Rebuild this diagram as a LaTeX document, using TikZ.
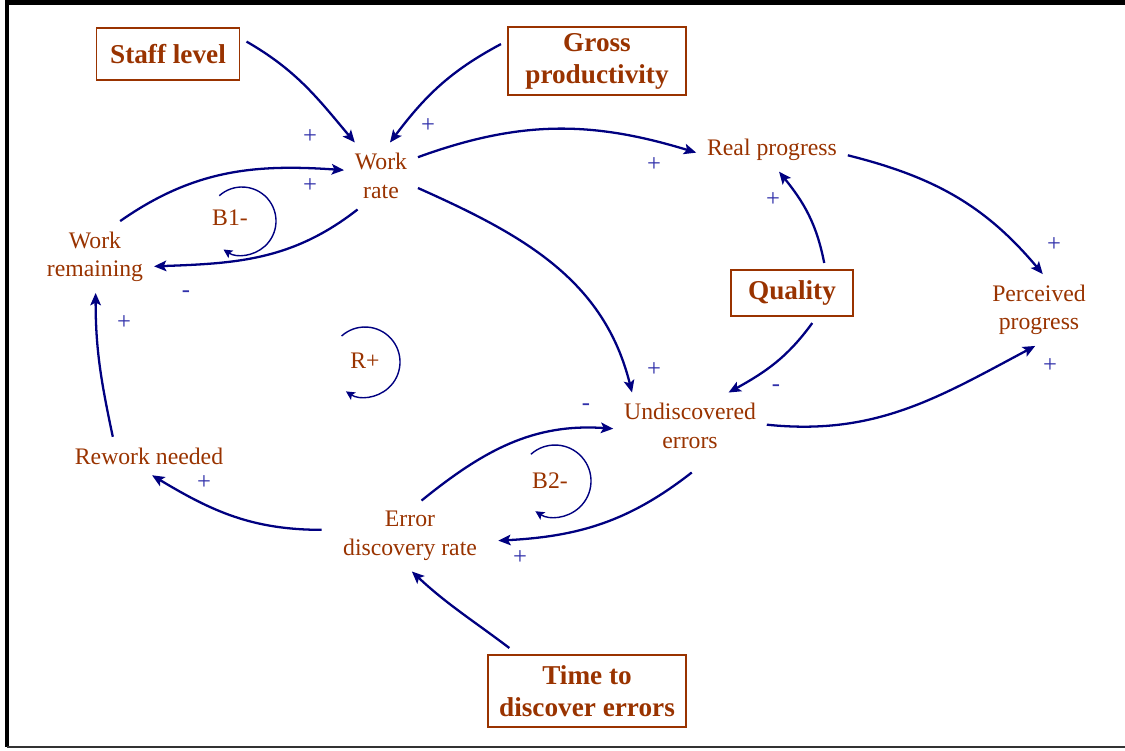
\documentclass[tikz,border=0pt]{standalone}
\usepackage{fontspec}
\setmainfont{Liberation Serif}
\usetikzlibrary{arrows.meta}
\definecolor{varcol}{RGB}{153,51,0}
\definecolor{linkcol}{RGB}{0,0,128}
\definecolor{signcol}{RGB}{48,48,170}

\begin{document}
\begin{tikzpicture}[
    var/.style={text=varcol, align=center, inner sep=6pt, font=\fontsize{13.5}{16.2}\selectfont},
    box/.style={draw=varcol, line width=1.1pt, text=varcol, align=center, inner sep=0pt, outer sep=4pt, font=\fontsize{15.5}{18.2}\selectfont\bfseries},
    link/.style={-{Stealth[length=7pt,width=6pt,inset=1.5pt]}, line width=1.3pt, linkcol},
    loopline/.style={-{Stealth[length=5pt,width=5pt,inset=1pt]}, line width=0.8pt, linkcol},
    sign/.style={text=signcol, font=\fontsize{14}{16}\selectfont, inner sep=0pt},
    looplabel/.style={text=varcol, font=\fontsize{13.5}{16}\selectfont, inner sep=0pt}
]
\useasboundingbox (0,0) rectangle (22.5,-15);

% Frame
\draw[line width=2.4pt] (22.5,-0.05) -- (0.14,-0.05) -- (0.14,-14.94);
\draw[line width=1.5pt, black!80] (0.14,-14.94) -- (22.5,-14.94);

% Exogenous inputs
\node[box, minimum width=2.86cm, minimum height=1.04cm] (staff) at (3.36,-1.08) {Staff level};
\node[box, minimum width=3.56cm, minimum height=1.36cm] (gross) at (11.94,-1.22) {Gross\\productivity};
\node[box, minimum width=2.44cm, minimum height=0.92cm] (quality) at (15.84,-5.86) {Quality};
\node[box, minimum width=3.96cm, minimum height=1.44cm] (tdisc) at (11.74,-13.82) {Time to\\discover errors};

% Variables
\node[var] (wrate) at (7.62,-3.52) {Work\\rate};
\node[var] (real) at (15.44,-3.00) {Real progress};
\node[var] (remain) at (1.90,-5.14) {Work\\remaining};
\node[var] (perceived) at (20.78,-6.20) {Perceived\\progress};
\node[var] (undisc) at (13.80,-8.52) {Undiscovered\\errors};
\node[var] (rework) at (2.98,-9.12) {Rework needed};
\node[var, inner xsep=12pt] (discrate) at (8.20,-10.72) {Error\\discovery rate};

% Links
\draw[link] (staff.9) to[out=-30, in=130] (wrate.128);
\draw[link] (gross.170) to[out=208, in=53] (wrate.75);
\draw[link] (wrate.27) to[out=20, in=163] (real.182);
\draw[link] (real.356) to[out=-14, in=130] (perceived.84);
\draw[link] (quality.43) to[out=101, in=-51] (real.288);
\draw[link] (quality.304) to[out=234, in=29] (undisc.41);
\draw[link] (undisc.1) to[out=-6, in=208] (perceived.264);
\draw[link] (wrate.342) to[out=-24, in=104] (undisc.150);
\draw[link] (wrate.235) to[out=218, in=2] (remain.351);
\draw[link] (remain.55) to[out=35, in=176] (wrate.171);
\draw[link] (rework.152) to[out=102, in=270] (remain.271);
\draw[link] (discrate.176) to[out=180, in=-31] (rework.279);
\draw[link] (discrate.72) to[out=39, in=176] (undisc.182);
\draw[link] ([yshift=-0.26cm]undisc.273) to[out=218, in=3] (discrate.357);
\draw[link] (tdisc.151) to[out=143, in=-43] (discrate.273);

% Loops
\node[looplabel] (loopB1) at (4.60,-4.36) {B1-};
\draw[loopline] ([xshift=0.24cm, yshift=-0.06cm]loopB1.center) ++(132:0.68) arc[start angle=132, end angle=-123, radius=0.68];
\node[looplabel] (loopR) at (7.30,-7.22) {R+};
\draw[loopline] ([yshift=-0.02cm]loopR.center) ++(132:0.70) arc[start angle=132, end angle=-123, radius=0.70];
\node[looplabel] (loopB2) at (11.00,-9.62) {B2-};
\draw[loopline] ([xshift=0.10cm]loopB2.center) ++(132:0.72) arc[start angle=132, end angle=-123, radius=0.72];

% Polarities
\node[sign] (p1) at (6.20,-2.74) {+};
\node[sign] (p2) at (8.56,-2.52) {+};
\node[sign] (p3) at (6.20,-3.72) {+};
\node[sign] (m1) at (3.72,-5.88) {-};
\node[sign] (p4) at (13.08,-3.30) {+};
\node[sign] (p5) at (15.46,-4.00) {+};
\node[sign] (p6) at (21.08,-4.90) {+};
\node[sign] (p7) at (21.00,-7.32) {+};
\node[sign] (p8) at (13.08,-7.40) {+};
\node[sign] (m2) at (15.52,-7.76) {-};
\node[sign] (m3) at (11.72,-8.14) {-};
\node[sign] (p9) at (2.48,-6.46) {+};
\node[sign] (p10) at (4.08,-9.66) {+};
\node[sign] (p11) at (10.40,-11.16) {+};

\end{tikzpicture}
\end{document}
